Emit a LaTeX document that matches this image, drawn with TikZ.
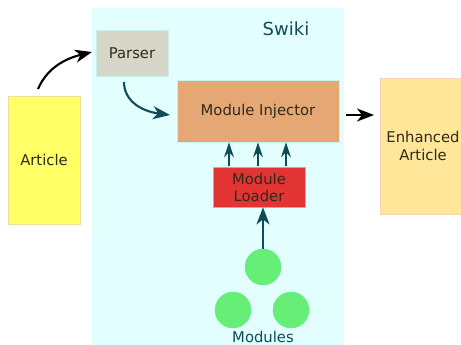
\documentclass[tikz,border=0pt]{standalone}
\usepackage{fontspec}
\setmainfont{DejaVu Sans}
\usetikzlibrary{arrows.meta,positioning}
\definecolor{swikibg}{HTML}{E3FEFE}
\definecolor{teal}{HTML}{0E4D57}
\definecolor{artyel}{HTML}{FFFF66}
\definecolor{artbd}{HTML}{F2DC9A}
\definecolor{parsebg}{HTML}{D6D7C8}
\definecolor{injbg}{HTML}{E5A874}
\definecolor{enhbg}{HTML}{FFE699}
\definecolor{enhbd}{HTML}{F6D2B4}
\definecolor{loadbg}{HTML}{E33434}
\definecolor{modgreen}{HTML}{66EE77}
\definecolor{lightbd}{HTML}{C8F0F0}
\definecolor{txt}{HTML}{2E2A1E}
\tikzset{
  box/.style={draw, line width=0.8pt, inner sep=0pt, align=center, font=\fontsize{14.8}{17.5}\selectfont, text=txt},
  arr/.style={-{Stealth[length=17pt,width=13pt,inset=5pt]}, line width=2.1pt},
  varr/.style={-{Stealth[length=15pt,width=10pt,inset=5pt]}, line width=2pt},
  mod/.style={circle, fill=modgreen, draw=modgreen!85!cyan, minimum size=36pt, inner sep=0pt}
}
\begin{document}
\begin{tikzpicture}[x=1pt,y=-1pt]
\useasboundingbox (0,0) rectangle (461,345);
\fill[white] (0,0) rectangle (461,345);
\fill[swikibg] (92,8) rectangle (344,345);
\node[font=\fontsize{18}{20}\selectfont, text=teal] (swiki) at (286,29) {Swiki};
\node[box, fill=artyel, draw=artbd, minimum width=72pt, minimum height=128pt] (article) at (44,160) {Article};
\node[box, fill=parsebg, draw=lightbd, minimum width=72pt, minimum height=46pt] (parser) at (132,53) {Parser};
\node[box, fill=injbg, draw=lightbd, minimum width=162pt, minimum height=62pt] (inj) at (258,111) {Module Injector};
\node[box, fill=enhbg, draw=enhbd, minimum width=86pt, minimum height=136pt] (enh) at (423,146) {Enhanced\\Article};
\node[box, fill=loadbg, draw=gray!60, minimum width=92pt, minimum height=40pt, font=\fontsize{14.8}{17}\selectfont] (loader) at (259,187) {Module\\Loader};
\node[mod] (m1) at (263,267) {};
\node[mod] (m2) at (233,310) {};
\node[mod] (m3) at (291,310) {};
\node[font=\fontsize{14.8}{17}\selectfont, text=teal] (mods) at (263,337) {Modules};
\coordinate (a1) at (38,89);
\coordinate (p1) at (92,52);
\draw[arr, black] (a1) .. controls (48,66) and (68,58) .. (p1);
\coordinate (p2) at (124,82);
\coordinate (i1) at (170,115);
\draw[arr, teal] (p2) .. controls (124,100) and (140,111) .. (i1);
\coordinate (i2) at (346,115);
\coordinate (e1) at (374,115);
\draw[arr, black] (i2) -- (e1);
\foreach \x/\n in {229/a,258/b,286/c}{
  \coordinate (ls\n) at (\x,166);
  \draw[varr, teal] (ls\n) -- (ls\n |- inj.south);
}
\draw[arr, teal] (m1.north) -- (m1.north |- loader.south);
\end{tikzpicture}
\end{document}
